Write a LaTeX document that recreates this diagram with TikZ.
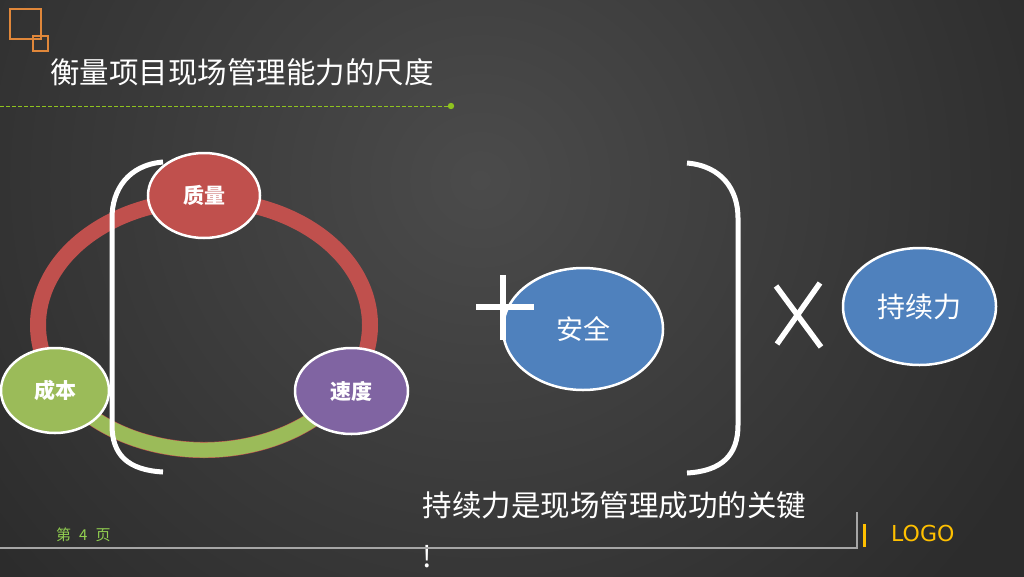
\documentclass[tikz,border=0pt]{standalone}
\usepackage{fontspec}
\newfontfamily\cjk{Noto Sans CJK SC}
\newfontfamily\dejavu{DejaVu Sans}
\usetikzlibrary{shapes.geometric}
\definecolor{bgin}{HTML}{4B4B4B}
\definecolor{bgout}{HTML}{2C2C2C}
\definecolor{cred}{HTML}{C0504D}
\definecolor{cgreen}{HTML}{9BBB59}
\definecolor{cpurple}{HTML}{8064A2}
\definecolor{cblue}{HTML}{4F81BD}
\definecolor{csq}{HTML}{E0873A}
\definecolor{cdash}{HTML}{8FC31F}
\definecolor{cgrey}{HTML}{A6A6A6}
\definecolor{cgold}{HTML}{FFC000}
\definecolor{cpage}{HTML}{92D050}
\begin{document}
\begin{tikzpicture}[x=1pt,y=1pt,
  oval/.style={ellipse, draw=white, line width=2.5pt, inner sep=0pt, text=white},
  ringnode/.style={oval, font=\cjk\bfseries\fontsize{21}{21}\selectfont},
  bigtext/.style={text=white, inner sep=0pt, font=\cjk\fontsize{29.5}{30}\selectfont},
  bracket/.style={draw=white, line width=5pt},
  sign/.style={draw=white, line width=5.5pt}]
\useasboundingbox (0,0) rectangle (1024,-576);
\begin{scope}
\clip (0,0) rectangle (1024,-576);
\shade[inner color=bgin, outer color=bgout] (-140,420) rectangle (1100,-780);
\end{scope}
% corner squares
\draw[csq, line width=1.3pt] (10,-9) rectangle (41,-39);
\draw[csq, line width=1.3pt] (33,-36) rectangle (48,-51);
% title
\node[bigtext, anchor=west] (title) at (50,-72) {衡量项目现场管理能力的尺度};
\draw[cdash, line width=1pt, dash pattern=on 4pt off 2pt] (0,-106) -- (448,-106);
\fill[cdash] (451,-106) circle (3.2);
% ring
\draw[cred, line width=16pt] (204,-325) ellipse [x radius=166, y radius=125];
\draw[cgreen, line width=15pt] (48.0,-367.75) arc[start angle=200, end angle=340, x radius=166, y radius=125];
% ring nodes
\node[ringnode, fill=cred, minimum width=112, minimum height=85] (q) at (204,-195.5) {质量};
\node[ringnode, fill=cgreen, minimum width=108, minimum height=85] (c) at (55,-390.5) {成本};
\node[ringnode, fill=cpurple, minimum width=113, minimum height=86] (s) at (351.5,-391) {速度};
% brackets
\draw[bracket] (163,-162) .. controls (128,-165) and (112,-190) .. (112,-218) -- (112,-425) .. controls (112,-455) and (128,-470) .. (163,-472);
\draw[bracket] (687,-163) .. controls (722,-166) and (738,-190) .. (738,-218) -- (738,-425) .. controls (738,-455) and (722,-471) .. (687,-473);
% safety
\node[oval, fill=cblue, minimum width=160, minimum height=122, font=\cjk\fontsize{27}{27}\selectfont] (a) at (583,-329) {\raisebox{-3pt}{安全}};
\draw[sign] (476,-307) -- (534,-307);
\draw[sign] (503,-275) -- (503,-340);
% times
\draw[sign] (776,-286) -- (821,-347);
\draw[sign] (820,-283) -- (777,-344);
\node[oval, fill=cblue, minimum width=153, minimum height=117, font=\cjk\fontsize{28}{28}\selectfont] (p) at (919.5,-306.5) {持续力};
% bottom text
\node[bigtext] (key) at (614.5,-505) {持续力是现场管理成功的关键};
\node[bigtext] (ex) at (427,-557) {!};
% footer
\draw[cgrey, line width=1.5pt] (0,-548) -- (857,-548) -- (857,-512);
\draw[cgold, line width=3pt] (864,-524) -- (864,-547);
\node[anchor=west, inner sep=0pt, text=cgold, font=\dejavu\fontsize{22}{22}\selectfont] (logo) at (891,-533) {LOGO};
\node[anchor=west, inner sep=0pt, text=cpage, font=\cjk\fontsize{15}{15}\selectfont] (page) at (56,-535) {第\hspace{8pt}4\hspace{8pt}页};
\end{tikzpicture}
\end{document}
